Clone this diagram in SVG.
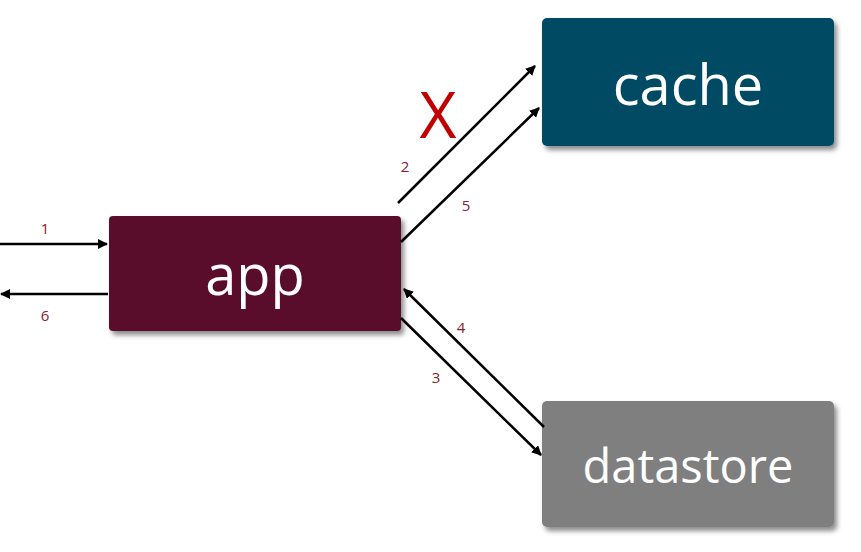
<svg xmlns="http://www.w3.org/2000/svg" width="861" height="552" viewBox="0 0 861 552">
<style>
.box{filter:url(#sh)}
.t{font-family:"Open Sans","Liberation Sans",sans-serif;fill:#fff;text-anchor:middle}
.n{font-family:"Open Sans","Liberation Sans",sans-serif;fill:#8b1a2e;font-size:15px;text-anchor:middle}
.c line{stroke:#000;stroke-width:2.5;marker-end:url(#a)}
</style>
<defs>
<marker id="a" viewBox="0 0 10 10" refX="9" refY="5" markerWidth="4" markerHeight="4" orient="auto"><path d="M0,0L10,5L0,10z" fill="#000"/></marker>
<filter id="sh" x="-10%" y="-10%" width="130%" height="130%"><feDropShadow dx="3" dy="4" stdDeviation="2.5" flood-color="#000" flood-opacity="0.45"/></filter>
</defs>
<rect width="861" height="552" fill="#fff"/>
<g id="app"><rect class="box" x="109" y="216" width="292" height="115" rx="4" fill="#5a112b"/><text class="t" x="255" y="295" font-size="56">app</text></g>
<g id="cache"><rect class="box" x="542" y="18" width="292" height="128" rx="5" fill="#034c64"/><text class="t" x="688" y="105" font-size="56">cache</text></g>
<g id="datastore"><rect class="box" x="542" y="401" width="292" height="126" rx="5" fill="#7f7f7f"/><text class="t" x="688" y="483" font-size="47">datastore</text></g>
<g class="c" id="connectors">
<line x1="0" y1="244" x2="107" y2="244"/>
<line x1="108" y1="294" x2="1" y2="294"/>
<line x1="398" y1="203" x2="535" y2="66"/>
<line x1="401" y1="242" x2="539" y2="108"/>
<line x1="401" y1="318" x2="541" y2="455"/>
<line x1="544" y1="427" x2="404" y2="289"/>
</g>
<text class="n" x="45" y="234">1</text>
<text class="n" x="45" y="321">6</text>
<text class="n" x="405" y="172">2</text>
<text class="n" x="466" y="211">5</text>
<text class="n" x="461" y="333">4</text>
<text class="n" x="436" y="383">3</text>
<text x="438" y="138" font-family="Open Sans, Liberation Sans, sans-serif" font-size="64" fill="#c00000" text-anchor="middle">X</text>
</svg>
